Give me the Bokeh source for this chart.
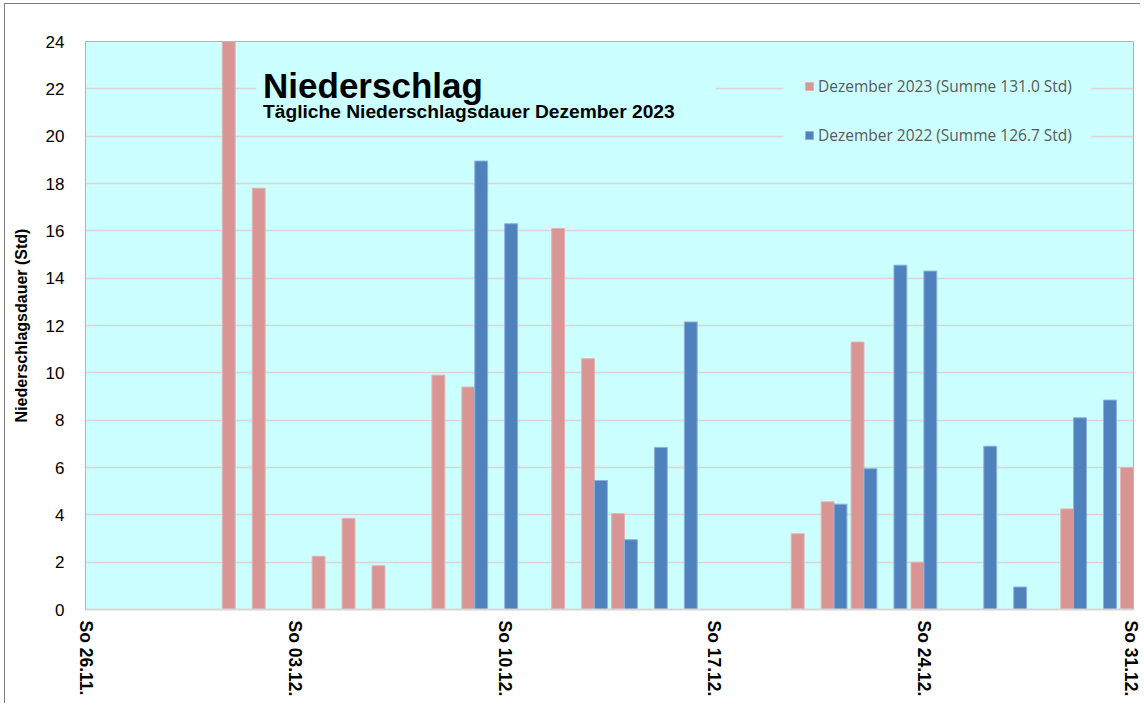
import pandas as pd
from bokeh.plotting import figure
from bokeh.models import (Range1d, FixedTicker, Label, BoxAnnotation, Legend, LegendItem,
                          ColumnDataSource)
from bokeh.transform import dodge
from bokeh.embed import file_html
from bokeh.resources import INLINE

# ---------------- data ----------------
days = [d.strftime("%d.%m.") for d in pd.date_range("2023-11-26", "2023-12-31")]
rain_2023 = [0, 0, 0, 0, 0,            # 26.11.-30.11.
             24.0, 17.8, 0, 2.25, 3.85, 1.85, 0, 9.9, 9.4, 0,     # 01.-10.12.
             0, 16.1, 10.6, 4.05, 0, 0, 0, 0, 0, 3.2,              # 11.-20.12.
             4.55, 11.3, 0, 2.0, 0, 0, 0, 0, 4.25, 0, 6.0]          # 21.-31.12.
rain_2022 = [0, 0, 0, 0, 0,
             0, 0, 0, 0, 0, 0, 0, 0, 18.95, 16.3,
             0, 0, 5.45, 2.95, 6.85, 12.15, 0, 0, 0, 0,
             4.45, 5.95, 14.55, 14.3, 0, 6.9, 0.95, 0, 8.1, 8.85, 0]
tick_days = ["26.11.", "03.12.", "10.12.", "17.12.", "24.12.", "31.12."]
tick_labels = ["So " + t for t in tick_days]
series_names = ["Dezember 2023 (Summe 131.0 Std)", "Dezember 2022 (Summe 126.7 Std)"]
title_text = "Niederschlag"
subtitle_text = "Tägliche Niederschlagsdauer Dezember 2023"
y_label = "Niederschlagsdauer (Std)"

# ---------------- figure ----------------
idx = list(range(len(days)))
src = ColumnDataSource(dict(x=idx, a=rain_2023, b=rain_2022))

p = figure(width=1136, height=700, x_range=Range1d(0, len(days) - 1), y_range=Range1d(0, 24),
           output_backend="svg", toolbar_location=None,
           min_border_left=80, min_border_right=8, min_border_top=37, min_border_bottom=95,
           margin=(3, 0, 0, 4))
p.styles = {"border-left": "1px solid #7F7F7F", "border-top": "1px solid #7F7F7F"}

p.background_fill_color = "#CCFFFF"
p.border_fill_color = "white"
p.outline_line_color = "#A9B4B4"
p.outline_line_width = 1

W = 0.43
r1 = p.vbar(x=dodge("x", -W / 2, range=p.x_range), top="a", width=W, source=src,
            fill_color="#D99594", line_color="#E3B3B2", line_width=1)
r2 = p.vbar(x=dodge("x", W / 2, range=p.x_range), top="b", width=W, source=src,
            fill_color="#4F81BD", line_color="#8DB0DA", line_width=1)

# grid
p.xgrid.grid_line_color = None
p.ygrid.grid_line_color = "#DAD4D4"
p.ygrid.grid_line_width = 1.5
p.ygrid.ticker = FixedTicker(ticks=list(range(0, 25, 2)))

# y axis
p.yaxis.ticker = FixedTicker(ticks=list(range(0, 25, 2)))
p.yaxis.axis_line_color = None
p.yaxis.major_tick_line_color = None
p.yaxis.minor_tick_line_color = None
p.yaxis.major_label_text_font = "Liberation Sans"
p.yaxis.major_label_text_font_size = "17px"
p.yaxis.major_label_text_color = "black"
p.yaxis.major_label_standoff = 15
p.yaxis.axis_label = y_label
p.yaxis.axis_label_text_font = "Liberation Sans"
p.yaxis.axis_label_text_font_size = "16px"
p.yaxis.axis_label_text_font_style = "bold"
p.yaxis.axis_label_text_color = "black"
p.yaxis.axis_label_standoff = 13

# x axis
tick_pos = [days.index(t) for t in tick_days]
p.xaxis.ticker = FixedTicker(ticks=tick_pos)
p.xaxis.major_label_overrides = {pos: lab for pos, lab in zip(tick_pos, tick_labels)}
p.xaxis.major_label_orientation = "vertical"
p.xaxis.major_label_text_font = "Liberation Sans"
p.xaxis.major_label_text_font_size = "17.5px"
p.xaxis.major_label_text_font_style = "bold"
p.xaxis.major_label_text_color = "black"
p.xaxis.major_label_standoff = 5
p.xaxis.axis_line_color = "#D6D6D6"
p.xaxis.axis_line_width = 2
p.xaxis.major_tick_line_color = None
p.xaxis.minor_tick_line_color = None

# background boxes hiding the grid behind title and legend
p.add_layout(BoxAnnotation(left=5.71, right=21.04, top=23.4, bottom=20.57,
                           fill_color="#CCFFFF", fill_alpha=1, line_color=None, level="underlay"))
p.add_layout(BoxAnnotation(left=23.31, right=33.57, top=22.77, bottom=19.39,
                           fill_color="#CCFFFF", fill_alpha=1, line_color=None, level="underlay"))

# title texts
p.add_layout(Label(x=5.93, y=22.14, text=title_text, text_font="Liberation Sans",
                   text_font_size="35px", text_font_style="bold", text_color="black",
                   text_baseline="alphabetic"))
p.add_layout(Label(x=5.93, y=21.04, text=subtitle_text, text_font="Liberation Sans",
                   text_font_size="19.2px", text_font_style="bold", text_color="black",
                   text_baseline="alphabetic"))

# legend
legend = Legend(items=[LegendItem(label=series_names[0], renderers=[r1]),
                       LegendItem(label=series_names[1], renderers=[r2])],
                location=(719, 463), orientation="vertical",
                glyph_width=10, glyph_height=10, label_height=20, spacing=27,
                label_standoff=4, padding=10, margin=0,
                background_fill_alpha=0, border_line_color=None,
                label_text_font="Open Sans", label_text_font_size="15.5px",
                label_text_color="#595959")
p.add_layout(legend)

open("out.html", "w").write(file_html(p, INLINE))
